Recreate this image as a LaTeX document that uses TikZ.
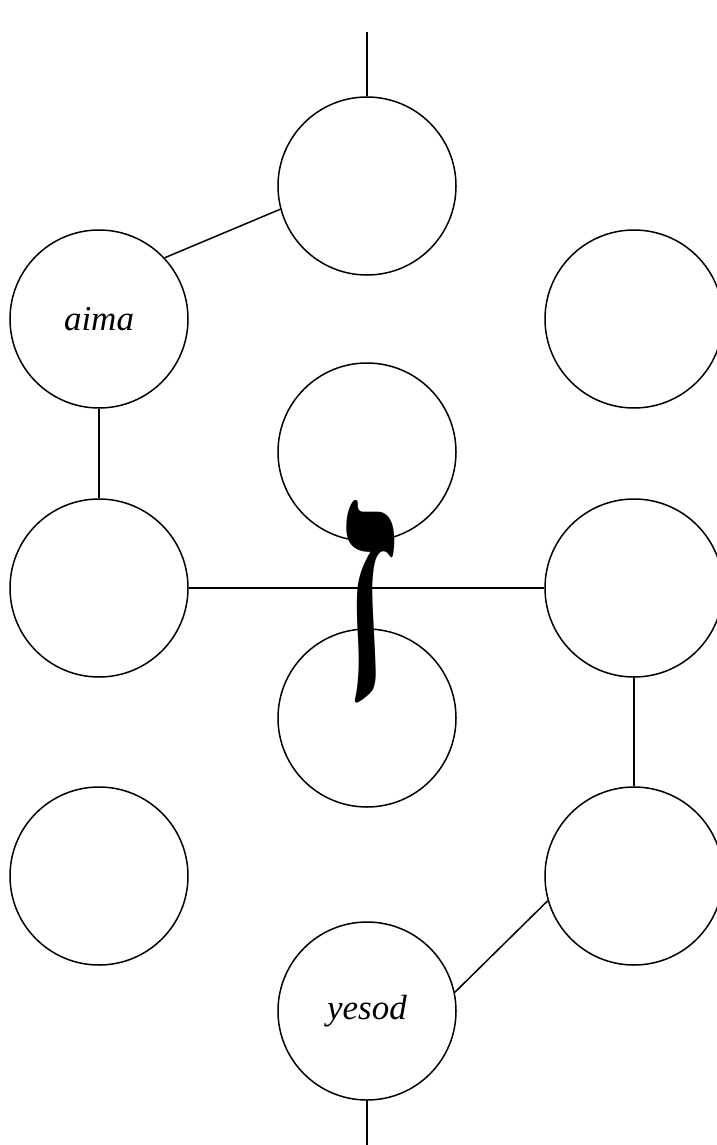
\documentclass[tikz,border=0pt]{standalone}
\usepackage{fontspec}
\setmainfont{Liberation Serif}
\newfontfamily\hebfont[Script=Hebrew]{Liberation Serif}
\begin{document}
\begin{tikzpicture}[x=1pt,y=-1pt,
  sefira/.style={draw,circle,line width=1.5pt,minimum size=178pt,inner sep=0pt,
    font=\fontsize{35}{40}\selectfont\itshape},
  path/.style={line width=1.5pt}]
\useasboundingbox (0,0) rectangle (716,1145);
\node[sefira] (top) at (367,186) {};
\node[sefira] (aima) at (99,319) {aima};
\node[sefira] (rt) at (634,319) {};
\node[sefira] (mid) at (367,452) {};
\node[sefira] (lm) at (99,588) {};
\node[sefira] (rm) at (634,588) {};
\node[sefira] (low) at (367,718) {};
\node[sefira] (lb) at (99,876) {};
\node[sefira] (rb) at (634,876) {};
\node[sefira] (yesod) at (367,1011) {yesod};
\coordinate (topend) at (367,32);
\coordinate (botend) at (367,1145);
\draw[path] (topend) -- (top.north);
\draw[path] (yesod.south) -- (botend);
\draw[path] (top.195.7) -- (aima.43.7);
\draw[path] (aima.south) -- (lm.north);
\draw[path] (lm.east) -- (rm.west);
\draw[path] (rm.south) -- (rb.north);
\draw[path] (rb.196.3) -- (yesod.12.7);
\node[inner sep=0pt] (zayin) at (368,601.5) {\resizebox{66pt}{200pt}{\hebfont\bfseries ז}};
\end{tikzpicture}
\end{document}
